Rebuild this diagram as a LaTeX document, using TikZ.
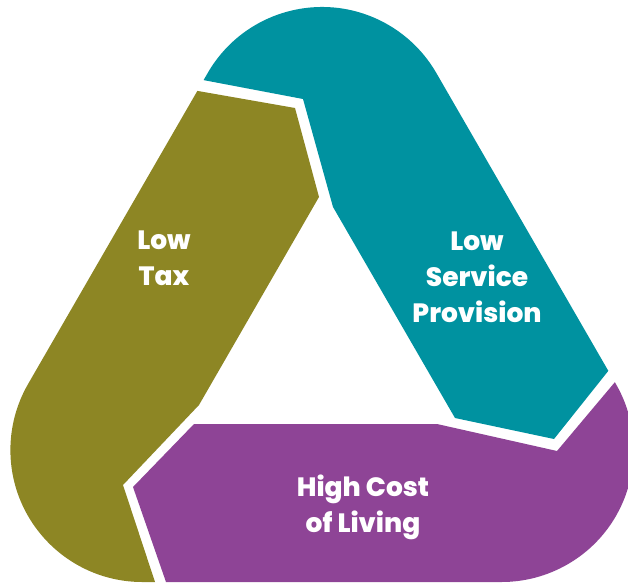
\documentclass[tikz,border=0pt]{standalone}
\usepackage{fontspec}
\setmainfont{Poppins}[BoldFont={Poppins ExtraBold}]
\usepackage{tikz}
\usetikzlibrary{positioning}
\definecolor{taxolive}{HTML}{8D8624}
\definecolor{serviceteal}{HTML}{0092A0}
\definecolor{costpurple}{HTML}{8E4496}
\tikzset{
    seglabel/.style={text=white, align=center, font=\bfseries\fontsize{26.5}{36}\selectfont}
}

\begin{document}
\begin{tikzpicture}[x=1pt,y=-1pt]
        \useasboundingbox (0,0) rectangle (628,586);
        \begin{scope}
            % outer rounded triangle
            \clip (207.7,73) arc[start angle=210,end angle=330,radius=132] -- (615.9,384)
                arc[start angle=-30,end angle=90,radius=132] -- (142.4,582)
                arc[start angle=90,end angle=210,radius=132] -- cycle;
            \fill[taxolive] (198,91) -- (295,108) -- (319,197) -- (199,405) -- (123,485) -- (155,582)
                -- (161,600) -- (-20,600) -- (-20,74) -- (100,74) -- cycle;
            \fill[serviceteal] (203,80) -- (303,99) -- (333,207) -- (455,418) -- (554,439) -- (609,370)
                -- (650,318) -- (650,-20) -- (100,-20) -- (100,60) -- cycle;
            \fill[costpurple] (194,424) -- (437,424) -- (557,451) -- (615,382)
                -- (650,340) -- (650,620) -- (179,620) -- (166,582) -- (133,487) -- cycle;
        \end{scope}
        \node[seglabel] (lowtax) at (164,258) {Low\\Tax};
        \node[seglabel] (lowservice) at (477,277) {Low\\Service\\Provision};
        \node[seglabel] (highcost) at (363,507) {High Cost\\of Living};
    \end{tikzpicture}
\end{document}
